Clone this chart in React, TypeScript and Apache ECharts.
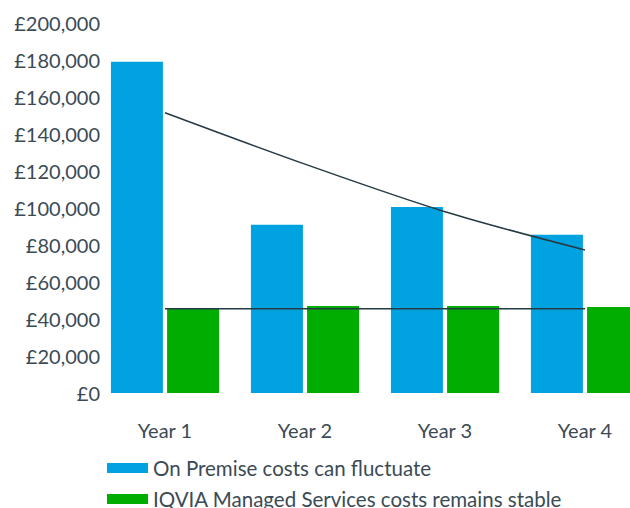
import React, { useEffect, useRef } from "react";
import * as echarts from "echarts";

const categories = ["Year 1", "Year 2", "Year 3", "Year 4"];
const onPremise = [179000, 91000, 100500, 85500];
const managed = [46000, 47000, 47000, 46500];
const trendLine = [151500, 123700, 98000, 77300];
const stableLine = [45600, 45600, 45600, 45600];
const yTicks = { min: 0, max: 200000, interval: 20000 };
const legendNames = ["On Premise costs can fluctuate", "IQVIA Managed Services costs remains stable"];

const FONT = "Lato, 'Open Sans', sans-serif";
const TEXT = "#3b4b55";

export default function App() {
  const ref = useRef<HTMLDivElement>(null);
  useEffect(() => {
    document.body.style.margin = "0";
    const chart = echarts.init(ref.current!, undefined, { renderer: "svg" });
    const legendCommon = {
      orient: "vertical",
      left: 107,
      padding: 0,
      itemWidth: 41,
      itemHeight: 10,
      icon: "rect",
      textStyle: { fontFamily: FONT, fontSize: 20.5, color: TEXT, lineHeight: 22 },
    };
    chart.setOption({
      animation: false,
      textStyle: { fontFamily: FONT },
      grid: { left: 95, top: 23, width: 560, height: 370, outerBoundsMode: "none", containLabel: false },
      legend: [
        { ...legendCommon, top: 457, data: [legendNames[0]] },
        { ...legendCommon, top: 488, data: [legendNames[1]] },
      ],
      xAxis: {
        type: "category",
        data: categories,
        boundaryGap: true,
        axisLine: { show: false },
        axisTick: { show: false },
        axisLabel: { fontFamily: FONT, fontSize: 20, color: TEXT, margin: 27 },
      },
      yAxis: {
        type: "value",
        min: yTicks.min,
        max: yTicks.max,
        interval: yTicks.interval,
        splitLine: { show: false },
        axisLine: { show: false },
        axisTick: { show: false },
        axisLabel: {
          fontFamily: FONT,
          fontSize: 20,
          color: TEXT,
          margin: -5,
          formatter: (v: number) => "£" + v.toLocaleString("en-GB"),
        },
      },
      series: [
        {
          name: legendNames[0],
          type: "bar",
          data: onPremise,
          barWidth: 52,
          barGap: "8%",
          itemStyle: { color: "#00a3e0" },
        },
        {
          name: legendNames[1],
          type: "bar",
          data: managed,
          barWidth: 52,
          barGap: "8%",
          itemStyle: { color: "#00ad00" },
        },
        {
          name: "trend",
          type: "line",
          data: trendLine,
          smooth: 0.3,
          symbol: "none",
          lineStyle: { color: "#243a44", width: 1.5 },
          z: 5,
        },
        {
          name: "stable",
          type: "line",
          data: stableLine,
          symbol: "none",
          lineStyle: { color: "#243a44", width: 1.5 },
          z: 5,
        },
      ],
    });
    return () => chart.dispose();
  }, []);
  return <div ref={ref} style={{ position: "absolute", left: 0, top: 0, width: 630, height: 508 }} />;
}
